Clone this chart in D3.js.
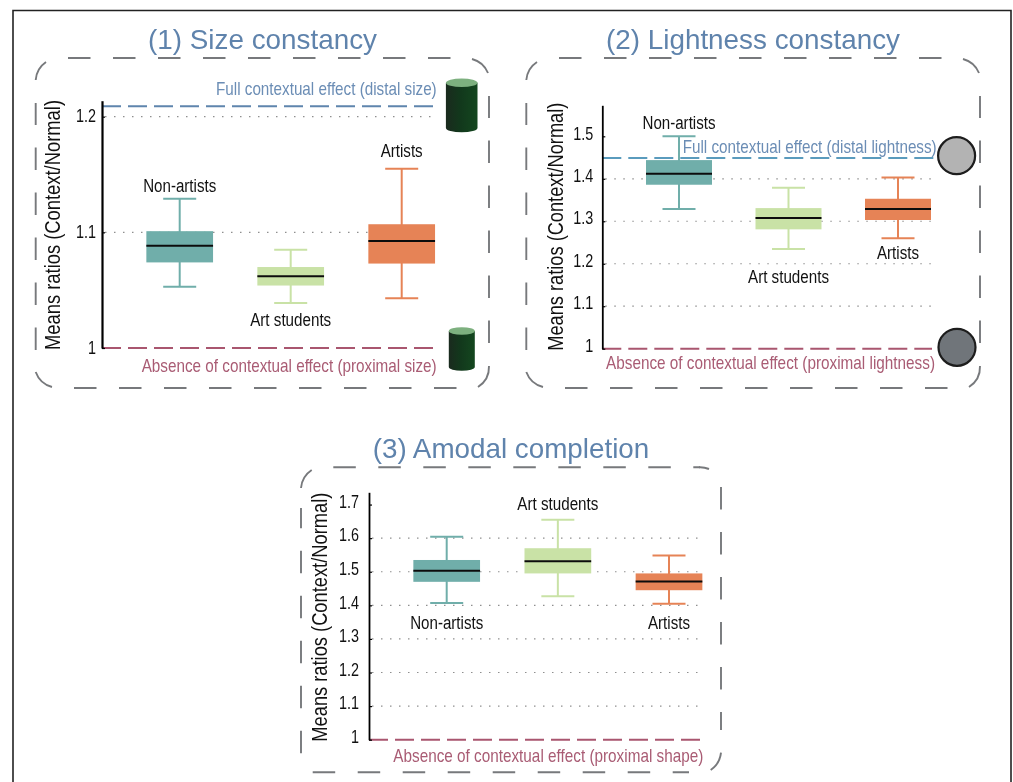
<!DOCTYPE html>
<html>
<head>
<meta charset="utf-8">
<script src="https://cdn.jsdelivr.net/npm/d3@7"></script>
<style>
  html, body { margin: 0; padding: 0; background: #fff; }
  svg { display: block; font-family: "Liberation Sans", Arial, sans-serif; filter: blur(0.35px); }
</style>
</head>
<body>
<div id="chart"></div>
<script>
// the values
var groups = ["Non-artists", "Art students", "Artists"];

var sizeTicks = [1, 1.1, 1.2];
var sizeLow = [1.053, 1.039, 1.043];
var sizeQ1 = [1.074, 1.054, 1.073];
var sizeMedian = [1.0885, 1.062, 1.0925];
var sizeQ3 = [1.101, 1.070, 1.107];
var sizeHigh = [1.129, 1.085, 1.155];
var sizeFull = 1.209;

var lightTicks = [1, 1.1, 1.2, 1.3, 1.4, 1.5];
var lightLow = [1.329, 1.235, 1.26];
var lightQ1 = [1.386, 1.281, 1.303];
var lightMedian = [1.412, 1.3075, 1.329];
var lightQ3 = [1.444, 1.331, 1.353];
var lightHigh = [1.5, 1.379, 1.403];
var lightFull = 1.449;

var amodalTicks = [1, 1.1, 1.2, 1.3, 1.4, 1.5, 1.6, 1.7];
var amodalLow = [1.407, 1.427, 1.405];
var amodalQ1 = [1.47, 1.495, 1.445];
var amodalMedian = [1.503, 1.531, 1.471];
var amodalQ3 = [1.535, 1.57, 1.495];
var amodalHigh = [1.604, 1.655, 1.548];

var boxFill = ["#70aeaa", "#c9e2a6", "#e68356"];
var blueText = "#6b8db5", redText = "#a95c74", titleBlue = "#5f83ac";

var svg = d3.select("#chart").append("svg")
    .attr("width", 1013)
    .attr("height", 782);

// gradient for the cylinders
var grad = svg.append("defs").append("linearGradient").attr("id", "cyl");
grad.append("stop").attr("offset", "0%").attr("stop-color", "#1a2a1e");
grad.append("stop").attr("offset", "45%").attr("stop-color", "#12381c");
grad.append("stop").attr("offset", "100%").attr("stop-color", "#14471f");

// black border of the figure
svg.append("path")
    .attr("d", "M13,782V10.5H1011V782")
    .attr("fill", "none")
    .attr("stroke", "#222")
    .attr("stroke-width", 1.6);

// squeezes a text to a given width
function put(g, str, x, y, width, size, color, anchor) {
  return g.append("text")
      .attr("x", x)
      .attr("y", y)
      .attr("font-size", size)
      .attr("fill", color)
      .attr("text-anchor", anchor || "start")
      .attr("textLength", width)
      .attr("lengthAdjust", "spacingAndGlyphs")
      .text(str);
}

// the long dashed frame, straight sides and four loose corner arcs
function frame(f) {
  var g = svg.append("g")
      .attr("fill", "none")
      .attr("stroke", "#77797c")
      .attr("stroke-width", 1.9);
  [[f.topFrom, f.y0, f.topTo, f.y0],
   [f.botFrom, f.y1, f.botTo, f.y1],
   [f.x0, f.leftFrom, f.x0, f.leftTo],
   [f.x1, f.rightFrom, f.x1, f.rightTo]].forEach(function(s) {
    g.append("line")
        .attr("x1", s[0]).attr("y1", s[1])
        .attr("x2", s[2]).attr("y2", s[3])
        .attr("stroke-dasharray", "22.5 22.5");
  });
  f.arcs.forEach(function(a) {
    g.append("path")
        .attr("d", "M" + a[0] + "," + a[1] + "A24,24 0 0 1 " + a[2] + "," + a[3]);
  });
}

// one box plot panel
function panel(p) {
  var g = svg.append("g");

  var y = d3.scaleLinear().domain([1, p.top]).range([p.yBase, p.yTop]);
  var x = d3.scalePoint().domain(groups).range(p.xRange);

  // dotted grid
  g.selectAll("line.grid")
    .data(p.ticks.filter(function(d) { return d > 1 && d <= p.gridMax; }))
    .enter()
    .append("line")
      .attr("class", "grid")
      .attr("x1", p.axisX + 3)
      .attr("x2", p.gridEnd)
      .attr("y1", function(d) { return y(d); })
      .attr("y2", function(d) { return y(d); })
      .attr("stroke", "#8f8f8f")
      .attr("stroke-width", 1.2)
      .attr("stroke-dasharray", "1.5 7.5");

  var rows = groups.map(function(name, i) {
    return {name: name, low: p.low[i], q1: p.q1[i], med: p.med[i], q3: p.q3[i], high: p.high[i], fill: boxFill[i], labelY: p.labelY[i]};
  });

  var box = g.selectAll("g.box")
    .data(rows)
    .enter()
    .append("g")
      .attr("class", "box");

  // whisker stem
  box.append("line")
      .attr("x1", function(d) { return x(d.name); })
      .attr("x2", function(d) { return x(d.name); })
      .attr("y1", function(d) { return y(d.low); })
      .attr("y2", function(d) { return y(d.high); })
      .attr("stroke", function(d) { return d.fill; })
      .attr("stroke-width", 2);

  // caps
  ["low", "high"].forEach(function(k) {
    box.append("line")
        .attr("x1", function(d) { return x(d.name) - p.capW / 2; })
        .attr("x2", function(d) { return x(d.name) + p.capW / 2; })
        .attr("y1", function(d) { return y(d[k]); })
        .attr("y2", function(d) { return y(d[k]); })
        .attr("stroke", function(d) { return d.fill; })
        .attr("stroke-width", 2);
  });

  box.append("rect")
      .attr("x", function(d) { return x(d.name) - p.boxW / 2; })
      .attr("width", p.boxW)
      .attr("y", function(d) { return y(d.q3); })
      .attr("height", function(d) { return y(d.q1) - y(d.q3); })
      .attr("fill", function(d) { return d.fill; });

  box.append("line")
      .attr("x1", function(d) { return x(d.name) - p.boxW / 2; })
      .attr("x2", function(d) { return x(d.name) + p.boxW / 2; })
      .attr("y1", function(d) { return y(d.med); })
      .attr("y2", function(d) { return y(d.med); })
      .attr("stroke", "#0c0c0c")
      .attr("stroke-width", 2);

  box.append("text")
      .attr("x", function(d) { return x(d.name); })
      .attr("y", function(d) { return d.labelY; })
      .attr("text-anchor", "middle")
      .attr("font-size", 18)
      .attr("fill", "#111")
      .attr("lengthAdjust", "spacingAndGlyphs")
      .attr("textLength", function(d) { return p.labelW[d.name]; })
      .text(function(d) { return d.name; });

  // reference lines
  if (p.full !== undefined) {
    g.append("line")
        .attr("x1", p.axisX).attr("x2", p.fullEnd)
        .attr("y1", y(p.full)).attr("y2", y(p.full))
        .attr("stroke", p.fullColor)
        .attr("stroke-width", 2)
        .attr("stroke-dasharray", "19 7");
  }
  g.append("line")
      .attr("x1", p.axisX).attr("x2", p.zeroEnd)
      .attr("y1", y(1)).attr("y2", y(1))
      .attr("stroke", "#a9566f")
      .attr("stroke-width", 2)
      .attr("stroke-dasharray", "19 7");

  // Y axis
  var axis = g.append("g")
      .attr("transform", "translate(" + p.axisX + ",0)")
      .call(d3.axisLeft(y)
        .tickValues(p.ticks)
        .tickFormat(function(d) { return d === 1 ? "1" : d3.format(".1f")(d); })
        .tickSizeInner(-3)
        .tickSizeOuter(0)
        .tickPadding(p.tickPad));
  axis.select(".domain").attr("stroke", "#000").attr("stroke-width", p.axisW);
  axis.selectAll(".tick line").attr("stroke", "#000").attr("stroke-width", 1.2);
  axis.selectAll(".tick text")
      .attr("font-family", "Liberation Sans")
      .attr("font-size", 18)
      .attr("fill", "#111")
      .attr("dy", p.tickDy)
      .attr("lengthAdjust", "spacingAndGlyphs")
      .attr("textLength", function(d) { return d === 1 ? 8 : 20; });

  // y title
  g.append("text")
      .attr("transform", "translate(" + p.yTitleX + "," + p.yTitleBottom + ")rotate(-90)")
      .attr("font-size", 22.5)
      .attr("fill", "#111")
      .attr("lengthAdjust", "spacingAndGlyphs")
      .attr("textLength", p.yTitleLen)
      .text("Means ratios (Context/Normal)");

  put(g, p.title, p.titleX, p.titleY, p.titleW, 28, titleBlue);
  p.notes.forEach(function(n) {
    put(g, n.text, n.x, n.y, n.w, 18.5, n.color);
  });
}

function cylinder(cx, top, bottom, rx, ry) {
  var g = svg.append("g");
  g.append("path")
      .attr("d", "M" + (cx - rx) + "," + top + "V" + bottom +
                 "A" + rx + "," + ry + " 0 0 0 " + (cx + rx) + "," + bottom +
                 "V" + top + "Z")
      .attr("fill", "url(#cyl)");
  g.append("ellipse")
      .attr("cx", cx).attr("cy", top)
      .attr("rx", rx).attr("ry", ry)
      .attr("fill", "#7db07f");
}

function disc(cx, cy, fill) {
  svg.append("circle")
      .attr("cx", cx).attr("cy", cy).attr("r", 18.5)
      .attr("fill", fill)
      .attr("stroke", "#1d1d1d")
      .attr("stroke-width", 2.2);
}

// (1) Size constancy
frame({x0: 35.7, x1: 489, y0: 58, y1: 388,
  topFrom: 68, topTo: 451, botFrom: 74, botTo: 457,
  leftFrom: 350, leftTo: 103, rightFrom: 343, rightTo: 96,
  arcs: [[35.7, 80, 46, 62], [472, 59, 488, 73], [489, 366, 478, 387], [52, 387, 35.7, 372]]});

panel({
  title: "(1) Size constancy", titleX: 148, titleY: 49, titleW: 229,
  ticks: sizeTicks, gridMax: 1.2, low: sizeLow, q1: sizeQ1, med: sizeMedian, q3: sizeQ3, high: sizeHigh,
  full: sizeFull, fullColor: "#5f85ad", fullEnd: 436, zeroEnd: 434,
  top: 1.2138, yBase: 348, yTop: 100.7, axisX: 102, axisW: 2.2, tickPad: 6, tickDy: "0.28em",
  xRange: [179.7, 401.7], boxW: 66.7, capW: 33, gridEnd: 433,
  labelY: [191.7, 325.7, 156.7], labelW: {"Non-artists": 73, "Art students": 81, "Artists": 42},
  yTitleX: 60, yTitleBottom: 350, yTitleLen: 250,
  notes: [
    {text: "Full contextual effect (distal size)", x: 216, y: 95, w: 220.7, color: blueText},
    {text: "Absence of contextual effect (proximal size)", x: 141.7, y: 371.7, w: 295, color: redText}
  ]
});
cylinder(461.7, 82.7, 128, 15.8, 4.3);
cylinder(461.8, 331, 367, 13, 3.8);

// (2) Lightness constancy
frame({x0: 526.3, x1: 980, y0: 58, y1: 388,
  topFrom: 559, topTo: 942, botFrom: 565, botTo: 948,
  leftFrom: 350, leftTo: 103, rightFrom: 343, rightTo: 96,
  arcs: [[526.3, 80, 537, 62], [963, 59, 979, 73], [980, 366, 969, 387], [543, 387, 526.3, 372]]});

panel({
  title: "(2) Lightness constancy", titleX: 606, titleY: 49, titleW: 294,
  ticks: lightTicks, gridMax: 1.4, low: lightLow, q1: lightQ1, med: lightMedian, q3: lightQ3, high: lightHigh,
  full: lightFull, fullColor: "#5a9bbd", fullEnd: 937, zeroEnd: 932,
  top: 1.573, yBase: 348.7, yTop: 105.3, axisX: 602.3, axisW: 1.8, tickPad: 9, tickDy: "0.15em",
  xRange: [679, 898], boxW: 66, capW: 33, gridEnd: 932,
  labelY: [129, 283.3, 258.7], labelW: {"Non-artists": 73, "Art students": 81, "Artists": 42},
  yTitleX: 562.7, yTitleBottom: 350.7, yTitleLen: 248,
  notes: [
    {text: "Full contextual effect (distal lightness)", x: 682.7, y: 152.7, w: 254, color: blueText},
    {text: "Absence of contextual effect (proximal lightness)", x: 606, y: 369.3, w: 329, color: redText}
  ]
});
disc(956.6, 155.7, "#b3b3b3");
disc(957, 347.3, "#70757a");

// (3) Amodal completion
frame({x0: 301, x1: 721, y0: 467.3, y1: 772.3,
  topFrom: 333.3, topTo: 700, botFrom: 312.7, botTo: 689,
  leftFrom: 753.3, leftTo: 508, rightFrom: 487, rightTo: 730,
  arcs: [[301, 488, 311.7, 470], [699, 467.3, 709, 469], [721, 752.7, 710.7, 770]]});

panel({
  title: "(3) Amodal completion", titleX: 372.7, titleY: 458.3, titleW: 276.6,
  ticks: amodalTicks, gridMax: 1.6, low: amodalLow, q1: amodalQ1, med: amodalMedian, q3: amodalQ3, high: amodalHigh,
  zeroEnd: 701.7,
  top: 1.7365, yBase: 739.7, yTop: 492.3, axisX: 369, axisW: 1.8, tickPad: 10, tickDy: "0.15em",
  xRange: [446.7, 669], boxW: 66.7, capW: 33, gridEnd: 698,
  labelY: [629, 510, 629], labelW: {"Non-artists": 73, "Art students": 81, "Artists": 42},
  yTitleX: 326.7, yTitleBottom: 741.7, yTitleLen: 249,
  notes: [
    {text: "Absence of contextual effect (proximal shape)", x: 393.3, y: 761.7, w: 310, color: redText}
  ]
});
</script>
</body>
</html>
